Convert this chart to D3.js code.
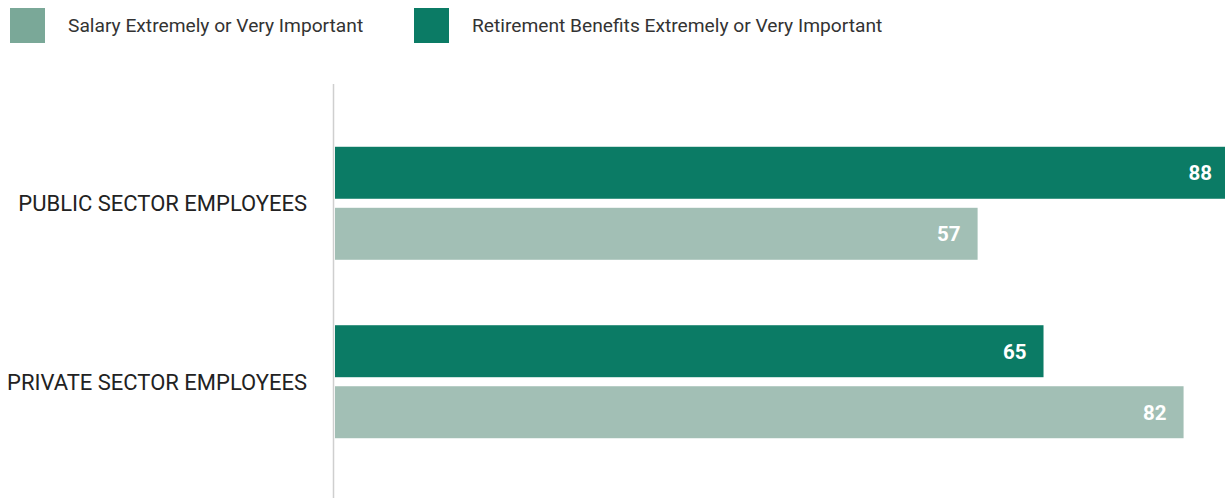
<!DOCTYPE html>
<html><head><meta charset="utf-8">
<script src="https://cdn.jsdelivr.net/npm/d3@7"></script>
<style>
html,body{margin:0;padding:0;background:#fff;}
svg{display:block;}
</style></head>
<body>
<svg id="chart" width="1225" height="498"></svg>
<script>
const categories = ["PUBLIC SECTOR EMPLOYEES", "PRIVATE SECTOR EMPLOYEES"];
const seriesNames = ["Retirement Benefits Extremely or Very Important", "Salary Extremely or Very Important"];
const retirementValues = [88, 65];
const salaryValues = [57, 82];
const legendOrder = ["Salary Extremely or Very Important", "Retirement Benefits Extremely or Very Important"];
const colors = {"Retirement Benefits Extremely or Very Important": "#0b7b65", "Salary Extremely or Very Important": "#a2bfb5"};
const legendColors = {"Retirement Benefits Extremely or Very Important": "#0b7b65", "Salary Extremely or Very Important": "#7aa898"};

const svg = d3.select("#chart");
const W = 1225, H = 498;
const font = "Roboto, 'Noto Sans', sans-serif";

const x = d3.scaleLinear().domain([-21, 88]).range([335, 1233]);
const y = d3.scaleBand().domain(categories).range([114.5, 470.5]).paddingInner(0.365).paddingOuter(0.18);
const yi = d3.scaleBand().domain(seriesNames).range([0, 113]).paddingInner(0.148);

const data = categories.map((c, i) => ({
  cat: c,
  vals: [
    {s: seriesNames[0], v: retirementValues[i]},
    {s: seriesNames[1], v: salaryValues[i]}
  ]
}));

svg.append("line").attr("x1", 333.5).attr("x2", 333.5).attr("y1", 84).attr("y2", H)
  .attr("stroke", "#cfcfcf").attr("stroke-width", 1.5);

const groupTop = c => y(c) + y.bandwidth() / 2 - 56.5;

const g = svg.selectAll("g.grp").data(data).enter().append("g")
  .attr("transform", d => `translate(0,${groupTop(d.cat)})`);

g.selectAll("rect").data(d => d.vals).enter().append("rect")
  .attr("x", x(-21))
  .attr("y", d => yi(d.s))
  .attr("width", d => x(d.v) - x(-21))
  .attr("height", yi.bandwidth())
  .attr("fill", d => colors[d.s]);

g.selectAll("text.val").data(d => d.vals).enter().append("text")
  .attr("class", "val")
  .attr("x", d => Math.min(x(d.v) - 17, W - 13))
  .attr("y", d => yi(d.s) + yi.bandwidth() / 2)
  .attr("dy", "0.36em")
  .attr("text-anchor", "end")
  .attr("fill", "#fff")
  .attr("font-family", font)
  .attr("font-weight", "bold")
  .attr("font-size", 20.5)
  .text(d => d.v);

svg.selectAll("text.cat").data(categories).enter().append("text")
  .attr("class", "cat")
  .attr("x", 307)
  .attr("y", d => groupTop(d) + 56.5)
  .attr("dy", "0.36em")
  .attr("text-anchor", "end")
  .attr("fill", "#222")
  .attr("font-family", font)
  .attr("font-size", 22)
  .text(d => d);

const legX = [10, 414];
const lg = svg.selectAll("g.leg").data(legendOrder).enter().append("g")
  .attr("transform", (d, i) => `translate(${legX[i]},8)`);
lg.append("rect").attr("width", 35).attr("height", 35).attr("fill", d => legendColors[d]);
lg.append("text").attr("x", 58).attr("y", 17.5).attr("dy", "0.36em")
  .attr("fill", "#333").attr("font-family", font).attr("font-size", 19.2)
  .text(d => d);
</script>
</body></html>
